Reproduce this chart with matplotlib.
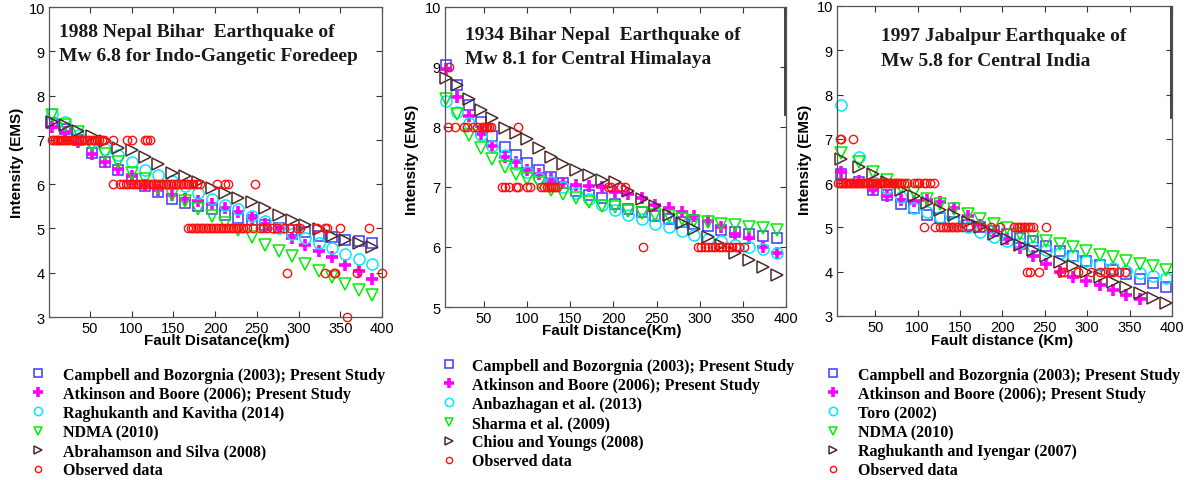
import matplotlib
matplotlib.use("Agg")
import matplotlib.pyplot as plt

# 1988 Nepal Bihar earthquake, Mw 6.8 (Indo-Gangetic Foredeep)
dist_1988 = [4, 20, 36, 52, 68, 84, 100, 116, 132, 148, 164, 180, 196,
             212, 228, 244, 260, 276, 292, 308, 324, 340, 356, 372, 388]
campbell_1988 = [7.37, 7.24, 6.99, 6.71, 6.50, 6.31, 6.12, 5.96, 5.82, 5.67, 5.58, 5.51, 5.43,
                 5.31, 5.24, 5.18, 5.08, 5.01, 4.96, 4.92, 4.84, 4.81, 4.75, 4.71, 4.67]
atkinson_1988 = [7.29, 7.18, 6.95, 6.69, 6.51, 6.35, 6.19, 5.99, 5.86, 5.75, 5.67, 5.63, 5.55,
                 5.46, 5.36, 5.24, 5.11, 5.00, 4.79, 4.63, 4.48, 4.36, 4.18, 4.03, 3.85]
raghukanth_1988 = [7.59, 7.40, 7.12, 6.95, 6.80, 6.65, 6.49, 6.33, 6.20, 6.06, 5.95, 5.81, 5.67,
                   5.52, 5.43, 5.28, 5.16, 5.02, 4.88, 4.78, 4.68, 4.56, 4.43, 4.32, 4.19]
ndma_1988 = [7.57, 7.33, 7.18, 6.88, 6.67, 6.50, 6.26, 6.12, 5.91, 5.75, 5.63, 5.45, 5.28,
             5.13, 4.96, 4.81, 4.63, 4.50, 4.38, 4.20, 4.05, 3.90, 3.75, 3.62, 3.50]
abrahamson_1988 = [7.40, 7.33, 7.19, 7.09, 6.97, 6.82, 6.76, 6.61, 6.46, 6.26, 6.18, 6.05, 5.91,
                   5.81, 5.69, 5.60, 5.46, 5.30, 5.18, 5.08, 4.98, 4.83, 4.75, 4.68, 4.58]
observed_1988 = {
    7: [4, 6, 8, 10, 12, 14, 16, 18, 20, 22, 25, 28, 31, 34, 37, 40, 43, 46, 49, 52,
        55, 58, 61, 64, 67, 78, 94, 100, 116, 119, 122],
    6: [78, 86, 90, 93, 96, 99, 102, 105, 108, 111, 114, 117, 120, 123, 126, 129, 132,
        135, 138, 141, 144, 147, 150, 153, 156, 159, 162, 165, 168, 171, 174, 178, 182,
        202, 212, 216, 248],
    5: [168, 171, 174, 177, 180, 183, 186, 189, 192, 195, 198, 201, 204, 207, 210, 213,
        216, 219, 222, 225, 228, 231, 234, 238, 246, 254, 258, 262, 268, 274, 282, 290,
        298, 302, 322, 332, 334, 350, 384],
    4: [286, 332, 342, 344, 370, 400],
    3: [358],
}

# 1934 Bihar Nepal earthquake, Mw 8.1 (Central Himalaya)
dist_1934 = [6, 19, 33, 47, 60, 74, 87, 100, 114, 128, 142, 157, 172, 187,
             202, 217, 233, 248, 264, 279, 294, 310, 325, 341, 357, 373, 389]
campbell_1934 = [9.03, 8.70, 8.36, 8.08, 7.85, 7.67, 7.53, 7.40, 7.28, 7.17, 7.06, 6.93, 6.86, 6.81,
                 6.72, 6.64, 6.58, 6.52, 6.47, 6.42, 6.39, 6.35, 6.29, 6.25, 6.22, 6.18, 6.15]
atkinson_1934 = [8.97, 8.50, 8.19, 7.88, 7.69, 7.50, 7.42, 7.29, 7.22, 7.14, 7.07, 7.03, 7.02, 7.00,
                 6.92, 6.89, 6.82, 6.70, 6.65, 6.58, 6.52, 6.43, 6.33, 6.22, 6.15, 6.00, 5.90]
anbazhagan_1934 = [8.44, 8.25, 8.07, 7.87, 7.68, 7.54, 7.39, 7.25, 7.15, 7.09, 7.00, 6.90, 6.80, 6.70,
                   6.61, 6.53, 6.46, 6.39, 6.33, 6.27, 6.20, 6.14, 6.10, 6.03, 6.00, 5.96, 5.90]
sharma_1934 = [8.47, 8.22, 7.86, 7.65, 7.47, 7.33, 7.22, 7.14, 7.06, 6.95, 6.89, 6.82, 6.75, 6.69,
               6.66, 6.60, 6.57, 6.53, 6.52, 6.47, 6.44, 6.42, 6.39, 6.36, 6.33, 6.32, 6.29]
chiou_1934 = [8.81, 8.70, 8.47, 8.29, 8.15, 7.98, 7.90, 7.80, 7.65, 7.50, 7.38, 7.29, 7.20, 7.12,
              7.08, 6.94, 6.80, 6.68, 6.54, 6.40, 6.30, 6.17, 6.03, 5.90, 5.78, 5.67, 5.54]
observed_1934 = {
    9: [10],
    8: [9, 17, 27, 30, 38, 42, 48, 50, 52, 54, 56, 58, 89],
    7: [71, 75, 79, 87, 90, 100, 104, 116, 120, 123, 125, 128, 130, 132, 135,
        194, 197, 209, 213],
    6: [234, 298, 302, 306, 310, 314, 318, 322, 326, 330, 334, 338, 342, 346, 351],
}

# 1997 Jabalpur earthquake, Mw 5.8 (Central India)
dist_1997 = [10, 31, 48, 64, 80, 96, 111, 127, 143, 159, 174, 190, 205,
             221, 236, 252, 268, 283, 299, 315, 330, 346, 362, 378, 393]
campbell_1997 = [6.21, 6.02, 5.85, 5.74, 5.53, 5.43, 5.28, 5.21, 5.13, 5.05, 5.00, 4.92, 4.85,
                 4.77, 4.70, 4.58, 4.46, 4.35, 4.25, 4.16, 4.05, 3.95, 3.84, 3.75, 3.65]
atkinson_1997 = [6.26, 6.05, 5.85, 5.70, 5.62, 5.60, 5.62, 5.58, 5.45, 5.25, 5.05, 4.92, 4.75,
                 4.53, 4.35, 4.18, 4.00, 3.88, 3.78, 3.69, 3.58, 3.48, 3.39]
toro_1997 = [7.76, 6.60, 6.02, 5.88, 5.68, 5.45, 5.34, 5.23, 5.12, 5.00, 4.89, 4.78, 4.70,
             4.64, 4.56, 4.50, 4.42, 4.35, 4.25, 4.15, 4.08, 4.02, 3.98, 3.91, 3.86]
ndma_1997 = [6.68, 6.47, 6.25, 6.08, 5.92, 5.79, 5.64, 5.53, 5.42, 5.30, 5.18, 5.08, 4.98,
             4.85, 4.78, 4.70, 4.63, 4.55, 4.46, 4.38, 4.33, 4.25, 4.18, 4.13, 4.05]
raghukanth_1997 = [6.54, 6.36, 6.21, 6.03, 5.85, 5.70, 5.55, 5.40, 5.27, 5.13, 5.00, 4.85, 4.73,
                   4.61, 4.48, 4.35, 4.23, 4.13, 3.99, 3.88, 3.77, 3.65, 3.53, 3.41, 3.30]
observed_1997 = {
    7: [8, 10, 24],
    6: [6, 8, 10, 12, 14, 16, 18, 20, 22, 24, 26, 28, 30, 32, 34, 36, 38, 40, 42, 44, 46,
        48, 50, 52, 54, 56, 58, 60, 62, 64, 66, 68, 70, 72, 74, 76, 78, 80, 84, 88, 96,
        99, 102, 107, 110, 115, 119],
    5: [107, 121, 127, 130, 133, 136, 139, 142, 145, 148, 152, 159, 170, 176, 186, 197,
        214, 217, 220, 222, 225, 227, 230, 233, 236, 252],
    4: [229, 233, 243, 269, 273, 289, 304, 315, 321, 327, 331, 338, 345],
}

labels_1988 = ["Campbell and Bozorgnia (2003); Present Study",
               "Atkinson and Boore (2006); Present Study",
               "Raghukanth and Kavitha (2014)", "NDMA (2010)",
               "Abrahamson and Silva (2008)", "Observed data"]
labels_1934 = ["Campbell and Bozorgnia (2003); Present Study",
               "Atkinson and Boore (2006); Present Study",
               "Anbazhagan et al. (2013)", "Sharma et al. (2009)",
               "Chiou and Youngs (2008)", "Observed data"]
labels_1997 = ["Campbell and Bozorgnia (2003); Present Study",
               "Atkinson and Boore (2006); Present Study",
               "Toro (2002)", "NDMA (2010)",
               "Raghukanth and Iyengar (2007)", "Observed data"]

MODEL_STYLES = [
    dict(marker="s", ms=7, mfc="none", mec="#3a3aff", mew=1.1),
    dict(marker="+", ms=9, mec="#ff00ff", mew=2.6),
    dict(marker="o", ms=8, mfc="none", mec="#00e8ff", mew=1.1),
    dict(marker="v", ms=8.5, mfc="none", mec="#00ee00", mew=1.1),
    dict(marker=">", ms=8.5, mfc="none", mec="#4d2a28", mew=1.1),
]
OBS_STYLE = dict(marker="o", ms=6, mfc="none", mec="#ff1010", mew=1.0)

SERIF = "Liberation Serif"
SANS = "Liberation Sans"


def draw_panel(ax, dist, models, observed, xlim, ylim):
    handles = []
    for vals, style in zip(models, MODEL_STYLES):
        h, = ax.plot(dist[:len(vals)], vals, ls="none", clip_on=False, **style)
        handles.append(h)
    ox = [d for level, ds in observed.items() for d in ds]
    oy = [level for level, ds in observed.items() for d in ds]
    h, = ax.plot(ox, oy, ls="none", clip_on=False, **OBS_STYLE)
    handles.append(h)

    ax.set_xlim(*xlim)
    ax.set_ylim(*ylim)
    ax.set_xticks(range(50, 401, 50))
    ax.set_yticks(range(ylim[0], ylim[1] + 1))
    ax.tick_params(direction="in", length=4, width=0.8, top=True, right=True,
                   labelsize=10.5, pad=3, colors="#333333", labelcolor="black")
    for lab in ax.get_xticklabels() + ax.get_yticklabels():
        lab.set_family(SANS)
    for sp in ax.spines.values():
        sp.set_color("#555555")
        sp.set_linewidth(0.9)
    return handles


fig = plt.figure(figsize=(11.92, 4.81), dpi=100)
W, H = 1192.0, 481.0


def add_axes(left, top, right, bottom):
    return fig.add_axes([left / W, 1 - bottom / H, (right - left) / W, (bottom - top) / H])


panels = [
    dict(box=(49, 8, 382, 318), dist=dist_1988,
         models=[campbell_1988, atkinson_1988, raghukanth_1988, ndma_1988, abrahamson_1988],
         observed=observed_1988, xlim=(1, 400), ylim=(3, 10), labels=labels_1988,
         title=["1988 Nepal Bihar  Earthquake of", "Mw 6.8 for Indo-Gangetic Foredeep"],
         title_xy=(59, 33, 57), xlabel="Fault Disatance(km)", xlabel_xy=(217, 341),
         ylabel_xy=(17, 163), legend_xy=(30, 368, 1.06)),
    dict(box=(445, 8, 786, 308), dist=dist_1934,
         models=[campbell_1934, atkinson_1934, anbazhagan_1934, sharma_1934, chiou_1934],
         observed=observed_1934, xlim=(5, 400), ylim=(5, 10), labels=labels_1934,
         title=["1934 Bihar Nepal  Earthquake of", "Mw 8.1 for Central Himalaya"],
         title_xy=(465, 35, 59), xlabel="Fault Distance(Km)", xlabel_xy=(612, 331),
         ylabel_xy=(412, 160), legend_xy=(441, 359, 0.94)),
    dict(box=(837, 7, 1172, 317), dist=dist_1997,
         models=[campbell_1997, atkinson_1997, toro_1997, ndma_1997, raghukanth_1997],
         observed=observed_1997, xlim=(5, 400), ylim=(3, 10), labels=labels_1997,
         title=["1997 Jabalpur Earthquake of", "Mw 5.8 for Central India"],
         title_xy=(881, 37, 62), xlabel="Fault distance (Km)", xlabel_xy=(1002, 341),
         ylabel_xy=(805, 160), legend_xy=(825, 368, 1.06)),
]

for i, p in enumerate(panels):
    ax = add_axes(*p["box"])
    handles = draw_panel(ax, p["dist"], p["models"], p["observed"], p["xlim"], p["ylim"])
    tx, ty1, ty2 = p["title_xy"]
    for line, ty in zip(p["title"], (ty1, ty2)):
        fig.text(tx / W, 1 - ty / H, line, family=SERIF, weight="bold", fontsize=14,
                 ha="left", va="center", color="#1a1a1a")
    xx, xy = p["xlabel_xy"]
    fig.text(xx / W, 1 - xy / H, p["xlabel"], family=SANS, weight="bold", fontsize=11,
             ha="center", va="center")
    yx, yy = p["ylabel_xy"]
    fig.text(yx / W, 1 - yy / H, "Intensity (EMS)", family=SANS, weight="bold", fontsize=11,
             ha="center", va="center", rotation=90)
    lx, ly, pad = p["legend_xy"]
    fig.legend(handles, p["labels"], loc="upper left", bbox_to_anchor=(lx / W, 1 - ly / H),
               frameon=False, prop=dict(family=SERIF, weight="bold", size=11.5),
               handlelength=1.0, handletextpad=pad, labelspacing=0.19, borderpad=0,
               borderaxespad=0, markerscale=0.75, numpoints=1)
    if i > 0:
        # dark stroke along the upper part of the right frame
        ax.axvline(p["xlim"][1] - 1.5, ymin=0.64, ymax=1.0, color="#333333", lw=1.3)

fig.savefig("out.png", dpi=100)
